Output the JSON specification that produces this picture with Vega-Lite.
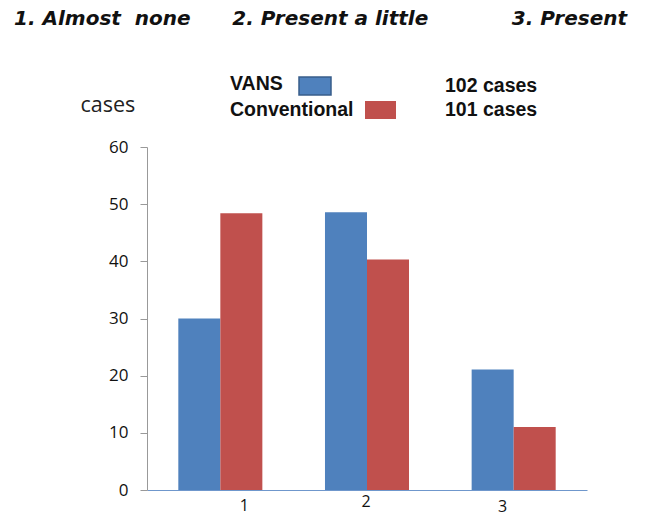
{
  "$schema": "https://vega.github.io/schema/vega-lite/v6.json",
  "autosize": "none",
  "width": 440,
  "height": 343,
  "padding": {"left": 147, "top": 147, "right": 59, "bottom": 25},
  "background": "white",
  "title": {
    "text": "1.\u00a0Almost\u00a0\u00a0none\u00a0\u00a0\u00a0\u00a0\u00a0\u00a02.\u00a0Present\u00a0a\u00a0little\u00a0\u00a0\u00a0\u00a0\u00a0\u00a0\u00a0\u00a0\u00a0\u00a0\u00a0\u00a03.\u00a0Present",
    "anchor": "start",
    "frame": "group",
    "dx": -133,
    "offset": 40,
    "font": "DejaVu Sans",
    "fontSize": 20,
    "fontStyle": "italic",
    "fontWeight": "bold",
    "color": "#111111"
  },
  "data": {
    "values": [
      {"category": "1", "series": "VANS", "n": "102 cases", "value": 30.0},
      {"category": "1", "series": "Conventional", "n": "101 cases", "value": 48.4},
      {"category": "2", "series": "VANS", "n": "102 cases", "value": 48.6},
      {"category": "2", "series": "Conventional", "n": "101 cases", "value": 40.3},
      {"category": "3", "series": "VANS", "n": "102 cases", "value": 21.1},
      {"category": "3", "series": "Conventional", "n": "101 cases", "value": 11.0}
    ]
  },
  "mark": {"type": "bar", "strokeWidth": 0},
  "encoding": {
    "x": {
      "field": "category",
      "type": "nominal",
      "scale": {"paddingInner": 0.427, "paddingOuter": 0.2135},
      "axis": {
        "title": null,
        "labelAngle": 0,
        "labelFont": "Open Sans",
        "labelFontSize": 16,
        "labelColor": "#111111",
        "labelBaseline": "top",
        "labelOffset": {"condition": [{"test": "datum.value == '1'", "value": 24}, {"test": "datum.value == '3'", "value": -11}], "value": -1},
        "labelPadding": {"condition": [{"test": "datum.value == '1'", "value": 7}, {"test": "datum.value == '3'", "value": 8}], "value": 3},
        "ticks": false,
        "domainColor": "#6f97cc",
        "domainWidth": 1.2
      }
    },
    "xOffset": {
      "field": "series",
      "type": "nominal",
      "scale": {"domain": ["VANS", "Conventional"], "paddingInner": 0, "paddingOuter": 0}
    },
    "y": {
      "field": "value",
      "type": "quantitative",
      "scale": {"domain": [0, 60]},
      "axis": {
        "values": [0, 10, 20, 30, 40, 50, 60],
        "grid": false,
        "title": "cases",
        "titleAngle": 0,
        "titleAlign": "left",
        "titleBaseline": "alphabetic",
        "titleX": -67,
        "titleY": -36,
        "titleFont": "Open Sans",
        "titleFontSize": 21.5,
        "titleFontWeight": "normal",
        "titleColor": "#222222",
        "labelFont": "Open Sans",
        "labelFontSize": 17,
        "labelColor": "#111111",
        "labelPadding": 12,
        "tickSize": 7,
        "tickColor": "#999999",
        "domainColor": "#999999"
      }
    },
    "fill": {
      "field": "n",
      "type": "nominal",
      "scale": {"domain": ["102 cases", "101 cases"], "range": ["#4f81bd", "#c0504d"]},
      "legend": {
        "values": ["102 cases"],
        "title": "VANS",
        "titleOrient": "left",
        "titlePadding": 15,
        "titleFont": "Liberation Sans",
        "titleFontSize": 19.5,
        "titleFontWeight": "bold",
        "titleColor": "#111111",
        "titleBaseline": "middle",
        "orient": "none",
        "legendX": 83,
        "legendY": -78,
        "symbolType": "M-1,-0.5625H1V0.5625H-1Z",
        "symbolSize": 1024,
        "symbolStrokeColor": "#385d8a",
        "symbolStrokeWidth": 1.5,
        "symbolOpacity": 1,
        "labelFont": "Liberation Sans",
        "labelFontSize": 19.5,
        "labelFontWeight": "bold",
        "labelColor": "#111111",
        "labelOffset": 113
      }
    },
    "stroke": {
      "field": "n",
      "type": "nominal",
      "scale": {"domain": ["101 cases", "102 cases"], "range": ["#c0504d", "#4f81bd"]},
      "legend": {
        "values": ["101 cases"],
        "title": "Conventional",
        "titleOrient": "left",
        "titlePadding": 2,
        "titleFont": "Liberation Sans",
        "titleFontSize": 19.5,
        "titleFontWeight": "bold",
        "titleColor": "#111111",
        "titleBaseline": "alphabetic",
        "orient": "none",
        "legendX": 83,
        "legendY": -61.5,
        "symbolType": "M-1,0H1",
        "symbolSize": 961,
        "symbolStrokeWidth": 18,
        "symbolOpacity": 1,
        "labelFont": "Liberation Sans",
        "labelFontSize": 19.5,
        "labelFontWeight": "bold",
        "labelColor": "#111111",
        "labelOffset": 40
      }
    }
  },
  "config": {
    "view": {"stroke": null},
    "legend": {"padding": 0}
  }
}
